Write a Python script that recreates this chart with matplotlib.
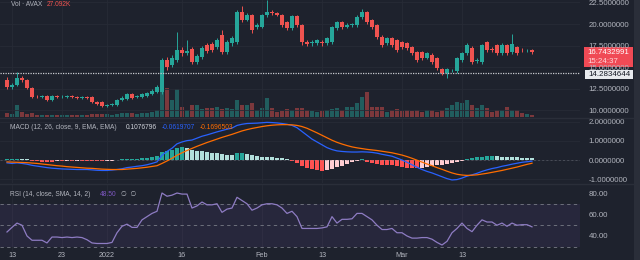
import numpy as np
import matplotlib.pyplot as plt
from matplotlib.patches import Rectangle
from matplotlib.lines import Line2D

plt.rcParams['font.family'] = ['Liberation Sans', 'DejaVu Sans']

# daily candles, 12 Dec 2021 .. 27 Mar 2022
opens = [13.49, 12.67, 12.91, 13.72, 13.49, 12.56, 11.51, 11.48, 11.63, 11.16,
         11.63, 11.51, 11.55, 11.63, 11.51, 11.40, 11.51, 11.51, 10.93, 10.93,
         10.47, 10.58, 10.58, 11.16, 11.28, 11.86, 11.51, 11.51, 11.63, 11.86,
         12.09, 12.09, 15.81, 15.23, 15.81, 16.98, 16.63, 17.09, 15.58, 16.16,
         17.56, 17.67, 17.33, 18.72, 16.74, 17.79, 17.91, 21.40, 20.47, 21.05,
         19.65, 19.65, 21.05, 21.40, 21.28, 21.05, 20.23, 19.53, 20.93, 19.88,
         17.91, 17.79, 17.79, 17.91, 17.79, 17.91, 19.53, 20.23, 19.65, 19.88,
         19.88, 20.81, 21.40, 20.47, 19.88, 18.49, 17.79, 18.37, 18.14, 17.91,
         17.79, 17.33, 16.74, 16.74, 16.05, 16.40, 16.05, 14.77, 14.30, 14.65,
         14.53, 15.81, 16.63, 17.21, 15.70, 15.58, 17.91, 17.09, 17.56, 16.63,
         17.56, 16.74, 17.33, 17.00, 16.95, 16.98]
closes = [12.67, 12.91, 13.72, 13.49, 12.56, 11.51, 11.48, 11.60, 11.16, 11.63,
          11.51, 11.55, 11.63, 11.51, 11.40, 11.51, 11.40, 10.93, 10.70, 10.47,
          10.58, 10.70, 11.16, 11.40, 11.86, 11.40, 11.63, 11.86, 11.98, 12.21,
          12.67, 15.81, 15.00, 16.05, 16.98, 16.63, 16.86, 15.58, 16.28, 17.21,
          16.86, 16.98, 18.14, 16.74, 17.91, 18.37, 21.40, 20.47, 21.05, 19.30,
          19.88, 21.05, 21.40, 21.28, 21.05, 19.88, 19.53, 20.93, 19.88, 17.91,
          17.67, 17.91, 18.14, 17.79, 18.37, 19.65, 20.23, 19.65, 19.88, 19.95,
          20.81, 21.40, 20.23, 19.65, 18.49, 17.56, 18.37, 17.56, 16.98, 17.33,
          17.21, 16.63, 15.81, 16.05, 16.63, 15.58, 14.88, 14.30, 14.77, 14.65,
          16.05, 16.63, 17.56, 15.58, 15.81, 17.56, 16.98, 17.00, 16.63, 17.56,
          16.63, 17.67, 16.63, 16.95, 16.98, 16.74]
highs = [13.80, 13.10, 14.42, 13.90, 13.60, 12.70, 11.70, 11.75, 11.80, 11.80,
         11.75, 11.70, 11.75, 11.70, 11.65, 11.65, 11.60, 11.60, 11.10, 11.00,
         10.75, 10.85, 11.30, 11.60, 12.00, 12.00, 11.80, 12.00, 12.15, 12.40,
         12.90, 16.10, 16.20, 16.40, 19.07, 17.30, 18.14, 17.30, 16.50, 17.50,
         17.80, 17.90, 18.40, 19.30, 18.10, 18.60, 21.60, 22.09, 21.30, 21.20,
         20.10, 21.20, 22.79, 21.60, 21.40, 21.20, 20.40, 21.10, 21.10, 20.00,
         18.10, 18.10, 18.30, 18.10, 18.50, 19.80, 20.40, 20.40, 20.10, 20.10,
         21.00, 21.70, 21.50, 20.60, 20.00, 18.70, 18.50, 18.50, 18.30, 18.00,
         17.90, 17.50, 16.90, 16.90, 16.80, 16.60, 16.20, 14.90, 14.90, 14.80,
         16.20, 16.80, 17.80, 17.40, 16.00, 17.70, 18.00, 17.30, 17.70, 17.80,
         17.70, 18.84, 17.50, 17.20, 17.10, 17.10]
lows = [12.50, 12.50, 12.80, 13.30, 12.40, 11.40, 11.35, 11.35, 11.05, 11.05,
        11.40, 11.40, 11.45, 11.40, 11.30, 11.30, 11.30, 10.80, 10.55, 10.35,
        10.35, 10.45, 10.45, 11.00, 11.15, 11.25, 11.40, 11.40, 11.50, 11.70,
        11.95, 11.90, 14.70, 15.00, 15.60, 16.30, 16.40, 15.30, 15.40, 15.90,
        16.60, 16.70, 17.10, 16.50, 16.50, 17.50, 17.70, 20.20, 20.30, 19.00,
        19.40, 19.50, 20.80, 21.00, 20.90, 19.60, 19.30, 19.30, 19.60, 17.60,
        17.40, 17.50, 17.60, 17.50, 17.60, 17.70, 19.30, 19.40, 19.50, 19.70,
        19.70, 20.60, 20.00, 19.40, 18.30, 17.30, 17.60, 17.30, 16.80, 17.10,
        17.00, 16.40, 15.60, 15.80, 15.90, 15.30, 14.70, 14.10, 13.72, 14.40,
        14.30, 15.60, 16.40, 15.30, 15.50, 15.40, 16.70, 16.80, 16.40, 16.40,
        16.40, 16.50, 16.40, 16.70, 16.80, 16.50]
# volume in thousands of AVAX
volume = [55, 40, 160, 70, 45, 55, 30, 28, 32, 30,
          28, 30, 27, 30, 28, 32, 30, 40, 42, 40,
          35, 30, 45, 50, 55, 48, 40, 50, 55, 70,
          95, 390, 385, 230, 380, 135, 95, 165, 160, 105,
          120, 115, 135, 110, 120, 110, 230, 160, 165, 190,
          95, 120, 255, 120, 70, 80, 110, 95, 120, 125,
          95, 80, 65, 80, 90, 110, 120, 95, 130, 135,
          190, 270, 335, 135, 135, 135, 70, 95, 110, 80,
          95, 80, 95, 70, 95, 95, 70, 95, 120, 160,
          200, 190, 230, 160, 120, 160, 120, 70, 95, 95,
          135, 95, 95, 55, 40, 27.092]
macd = [-0.15, -0.18, -0.15, -0.18, -0.22, -0.28, -0.32, -0.36, -0.40, -0.43,
        -0.45, -0.47, -0.48, -0.49, -0.50, -0.50, -0.50, -0.52, -0.54, -0.55,
        -0.55, -0.53, -0.50, -0.46, -0.40, -0.37, -0.33, -0.30, -0.25, -0.18,
        -0.10, 0.25, 0.45, 0.62, 0.85, 0.95, 1.02, 1.05, 1.15, 1.25,
        1.32, 1.40, 1.48, 1.55, 1.62, 1.68, 1.82, 1.88, 1.92, 1.93,
        1.94, 1.96, 1.98, 1.97, 1.95, 1.92, 1.88, 1.82, 1.70, 1.50,
        1.30, 1.10, 0.95, 0.80, 0.65, 0.55, 0.48, 0.45, 0.43, 0.42,
        0.42, 0.43, 0.42, 0.40, 0.36, 0.30, 0.25, 0.20, 0.10, 0.00,
        -0.12, -0.25, -0.38, -0.50, -0.60, -0.68, -0.78, -0.88, -0.98, -1.05,
        -1.03, -0.95, -0.85, -0.78, -0.70, -0.60, -0.52, -0.45, -0.40, -0.33,
        -0.28, -0.22, -0.17, -0.12, -0.09, -0.0619707]
signal = [-0.10, -0.11, -0.12, -0.13, -0.14, -0.16, -0.18, -0.21, -0.24, -0.27,
          -0.30, -0.32, -0.35, -0.37, -0.39, -0.41, -0.43, -0.44, -0.46, -0.48,
          -0.49, -0.50, -0.50, -0.50, -0.48, -0.46, -0.44, -0.41, -0.38, -0.34,
          -0.30, -0.18, -0.05, 0.09, 0.25, 0.38, 0.50, 0.61, 0.72, 0.82,
          0.92, 1.01, 1.10, 1.19, 1.27, 1.35, 1.44, 1.53, 1.60, 1.66,
          1.71, 1.76, 1.80, 1.83, 1.85, 1.86, 1.86, 1.85, 1.82, 1.76,
          1.67, 1.55, 1.43, 1.30, 1.17, 1.04, 0.93, 0.84, 0.76, 0.69,
          0.64, 0.60, 0.56, 0.53, 0.50, 0.46, 0.42, 0.38, 0.32, 0.26,
          0.18, 0.09, -0.01, -0.11, -0.21, -0.30, -0.40, -0.49, -0.59, -0.68,
          -0.75, -0.79, -0.81, -0.80, -0.78, -0.74, -0.70, -0.65, -0.60, -0.55,
          -0.49, -0.43, -0.37, -0.30, -0.23, -0.1696503]
hist = [0.05, 0.05, 0.06, 0.05, 0.04, -0.03, -0.06, -0.08, -0.08, -0.08,
        -0.07, -0.07, -0.06, -0.06, -0.05, -0.05, -0.05, -0.05, -0.05, -0.05,
        -0.04, -0.03, 0.02, 0.04, 0.06, 0.06, 0.07, 0.08, 0.10, 0.14,
        0.20, 0.40, 0.50, 0.55, 0.62, 0.68, 0.62, 0.55, 0.50, 0.45,
        0.40, 0.38, 0.35, 0.30, 0.28, 0.25, 0.36, 0.36, 0.34, 0.28,
        0.22, 0.18, 0.17, 0.15, 0.12, 0.08, 0.04, -0.05, -0.15, -0.30,
        -0.40, -0.48, -0.55, -0.58, -0.55, -0.45, -0.38, -0.30, -0.22, -0.12,
        -0.05, 0.03, -0.08, -0.15, -0.20, -0.24, -0.26, -0.28, -0.32, -0.36,
        -0.40, -0.42, -0.44, -0.42, -0.38, -0.32, -0.28, -0.24, -0.20, -0.15,
        -0.10, -0.05, 0.05, 0.10, 0.14, 0.18, 0.20, 0.20, 0.19, 0.18,
        0.17, 0.16, 0.15, 0.13, 0.12, 0.1076796]
rsi = [43.7, 48, 52, 50, 40, 36, 36, 36, 33.5, 39,
       39, 38.5, 39, 38.5, 39, 38.5, 36.5, 33.5, 33, 33,
       33, 34, 43, 49, 51, 48, 48, 55, 58, 61,
       63, 80, 77, 78, 80, 79, 79, 66, 68, 71.6,
       69, 69, 70, 62, 65, 66, 76, 73, 70, 64,
       66, 69, 70, 70, 69, 66, 61, 63, 58, 47,
       47, 47, 47, 47.5, 48.5, 58, 52, 55.5, 55.5, 56,
       61, 61, 58, 55, 50, 46, 46, 47, 43, 43,
       40, 38, 38, 38.5, 38.5, 37, 34, 31.6, 35, 43,
       47, 52, 47, 44, 50, 55, 53, 53, 50, 52,
       49, 52, 50, 50.5, 50.5, 48.5]

date_pos = [1, 11, 20, 35, 51, 63, 79, 91]
date_labels = ['13', '23', '2022', '16', 'Feb', '13', 'Mar', '13']

BG = '#1e222d'
GRID = '#272b36'
TXT = '#b2b5be'
UP = '#26a69a'
DN = '#ef5350'

W, H = 640, 260
x = np.arange(len(closes))
o = np.array(opens)
c = np.array(closes)
col = np.where(c >= o, UP, DN)


def box(top, bottom, left=0, right=580):
    return [left / W, 1 - bottom / H, (right - left) / W, (bottom - top) / H]


fig = plt.figure(figsize=(6.4, 2.6), dpi=100, facecolor=BG)
ax = fig.add_axes(box(0, 117))
axv = ax.twinx()
axm = fig.add_axes(box(118, 183))
axr = fig.add_axes(box(184, 251))

for a in (ax, axm, axr):
    a.set_facecolor('none')
    for s in a.spines.values():
        s.set_visible(False)
    a.set_xlim(-1.4, 114.6)
    a.set_xticks(date_pos)
    a.set_xticklabels([])
    a.yaxis.tick_right()
    a.tick_params(length=0, labelcolor=TXT, labelsize=5.7, pad=6)
    a.grid(True, color=GRID, lw=0.6)
    a.set_axisbelow(True)

# price + volume
ax.set_zorder(axv.get_zorder() + 1)
axv.axis('off')
axv.bar(x, volume, width=0.75, color=col, alpha=0.45)
axv.set_ylim(0, 1580)
ax.vlines(x, lows, highs, colors=col, lw=0.7)
ax.bar(x, np.maximum(np.abs(c - o), 0.06), bottom=np.minimum(o, c), width=0.72, color=col)
ax.set_ylim(9.19, 22.79)
ax.set_yticks([10, 12.5, 15, 17.5, 20, 22.5])
ax.set_yticklabels(['%.7f' % v for v in [10, 12.5, 15, 17.5, 20, 22.5]])
ax.axhline(14.2834644, color='#c8cad0', ls=(0, (1, 1)), lw=0.9)

# MACD
hcol = []
for i, h in enumerate(hist):
    prev = hist[i - 1] if i else h
    if h >= 0:
        hcol.append(UP if h >= prev else '#b2dfdb')
    else:
        hcol.append('#ff5252' if h <= prev else '#ffcdd2')
axm.axhline(0, color='#787b86', ls=(0, (3, 3)), lw=0.5, alpha=0.6)
axm.bar(x, hist, width=0.8, color=hcol)
axm.plot(x, macd, color='#2962ff', lw=0.9)
axm.plot(x, signal, color='#ff6d00', lw=0.9)
axm.set_ylim(-1.21, 2.21)
axm.set_yticks([-1, 0, 1, 2])
axm.set_yticklabels(['%.7f' % v for v in [-1, 0, 1, 2]])

# RSI
axr.axhspan(30, 70, color='#7e57c2', alpha=0.1, lw=0)
for lvl in (30, 50, 70):
    axr.axhline(lvl, color='#787b86', ls=(0, (4, 4)), lw=0.6)
axr.plot(x, rsi, color='#8e7cc3', lw=0.9)
axr.set_ylim(26.0, 88.4)
axr.set_yticks([40, 60, 80])
axr.set_yticklabels(['%.2f' % v for v in [40, 60, 80]])
axr.set_xticklabels(date_labels)
axr.tick_params(axis='x', pad=1, labelsize=5.2)
axr.grid(False, axis='y')

# pane separators and right strip
for yy in (117.5, 183.5):
    fig.add_artist(Line2D([0, 1], [1 - yy / H] * 2, color='#2a2e39', lw=1))
fig.add_artist(Rectangle((634 / W, 0), 6 / W, 1, color='#2a2e39', lw=0))

# last price tags
fig.add_artist(Rectangle((584 / W, 1 - 67 / H), 49 / W, 20 / H, color='#f04a55', lw=0))
fig.text(587 / W, 1 - 52.5 / H, '16.7432991', color='white', fontsize=5.7, va='center')
fig.text(587 / W, 1 - 61.5 / H, '15:24:37', color='#ffd6d9', fontsize=5.7, va='center')
fig.add_artist(Rectangle((585 / W, 1 - 79 / H), 48 / W, 9 / H, color='#e8eaee', lw=0))
fig.text(588 / W, 1 - 74.5 / H, '14.2834644', color='#131722', fontsize=5.7, va='center')


def label(px, py, s, color=TXT):
    fig.text(px / W, 1 - py / H, s, color=color, fontsize=4.8, va='center')


label(11, 5, 'Vol · AVAX')
label(47, 5, '27.092K', DN)
label(10, 127.5, 'MACD (12, 26, close, 9, EMA, EMA)')
label(126, 127.5, '0.1076796', '#d1d4dc')
label(162, 127.5, '-0.0619707', '#2962ff')
label(200, 127.5, '-0.1696503', '#ff6d00')
label(10, 195, 'RSI (14, close, SMA, 14, 2)')
label(100, 195, '48.50', '#7e57c2')
label(121, 195, '∅  ∅')

fig.savefig('out.png', dpi=100, facecolor=BG)
